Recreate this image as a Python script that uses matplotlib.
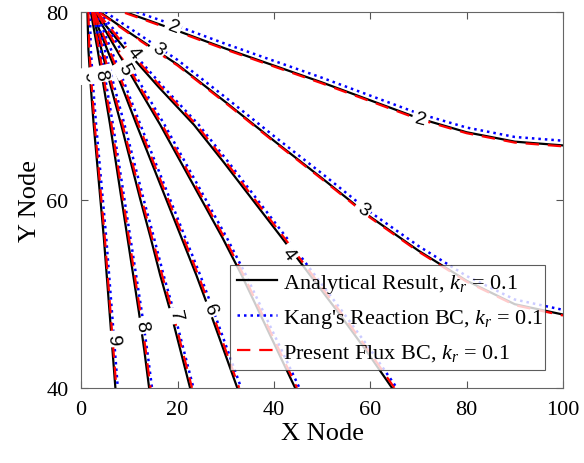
import matplotlib
matplotlib.use('Agg')
import matplotlib.pyplot as plt

plt.rcParams['font.family'] = ['Liberation Serif', 'DejaVu Serif']
plt.rcParams['mathtext.fontset'] = 'custom'
plt.rcParams['mathtext.rm'] = 'Liberation Serif'
plt.rcParams['mathtext.it'] = 'Liberation Serif:italic'

# contour levels whose lines run down to the bottom edge: x read at each y
y_steep = [80, 76, 72, 68, 64, 60, 56, 52, 48, 44, 40]
steep_levels = [9, 8, 7, 6, 5, 4]

analytical_steep = [
    [1.3, 1.5, 2.0, 2.6, 3.3, 4.0, 4.7, 5.3, 5.9, 6.5, 7.1],
    [2.0, 3.4, 4.7, 6.0, 7.2, 8.4, 9.6, 10.8, 12.0, 13.1, 14.1],
    [2.3, 4.2, 6.2, 8.3, 10.3, 12.3, 14.4, 16.4, 18.6, 20.6, 22.6],
    [2.3, 5.4, 8.5, 11.5, 14.6, 17.7, 20.8, 23.9, 26.8, 29.6, 32.4],
    [2.8, 7.3, 11.8, 16.4, 20.7, 25.0, 29.3, 33.3, 37.0, 40.7, 44.4],
    [2.8, 9.2, 16.1, 23.4, 29.6, 35.6, 41.6, 47.5, 53.4, 59.1, 64.5],
]
kang_steep = [
    [1.8, 2.0, 2.5, 3.1, 3.8, 4.5, 5.2, 5.8, 6.4, 7.0, 7.6],
    [2.6, 4.0, 5.3, 6.6, 7.8, 9.0, 10.2, 11.4, 12.6, 13.7, 14.7],
    [3.0, 4.9, 6.9, 9.0, 11.0, 13.0, 15.1, 17.1, 19.3, 21.3, 23.3],
    [3.1, 6.2, 9.3, 12.3, 15.4, 18.5, 21.6, 24.7, 27.6, 30.4, 33.2],
    [3.7, 8.2, 12.7, 17.3, 21.6, 25.9, 30.2, 34.2, 37.9, 41.6, 45.3],
    [3.8, 10.2, 17.1, 24.4, 30.6, 36.6, 42.6, 48.5, 54.4, 60.1, 65.5],
]
present_steep = [
    [1.5, 1.7, 2.2, 2.8, 3.5, 4.2, 4.9, 5.5, 6.1, 6.7, 7.3],
    [2.3, 3.7, 5.0, 6.3, 7.5, 8.7, 9.9, 11.1, 12.3, 13.4, 14.4],
    [2.6, 4.5, 6.5, 8.6, 10.6, 12.6, 14.7, 16.8, 19.0, 21.0, 23.0],
    [2.7, 5.8, 8.9, 11.9, 15.0, 18.1, 21.2, 24.3, 27.2, 30.0, 32.8],
    [3.2, 7.7, 12.2, 16.8, 21.1, 25.4, 29.7, 33.7, 37.4, 41.1, 44.8],
    [3.3, 9.7, 16.6, 23.9, 30.1, 36.1, 42.1, 48.0, 53.9, 59.6, 65.0],
]

# levels 3 and 2 run to the right edge: y read at each x
x_l3 = [3.9, 10, 20, 30, 40, 50, 60, 70, 80, 90, 100]
x_l3_kang = [5.0, 10, 20, 30, 40, 50, 60, 70, 80, 90, 100]
analytical_l3 = [80, 77.8, 74.4, 70.4, 66.3, 62.3, 58.2, 54.6, 51.4, 48.9, 47.8]
kang_l3 = [80, 78.3, 74.9, 70.9, 66.8, 62.8, 58.7, 55.1, 51.9, 49.4, 48.3]
present_l3 = [79.9, 77.7, 74.3, 70.3, 66.2, 62.2, 58.1, 54.5, 51.3, 48.8, 47.7]

x_l2 = [9.1, 20, 30, 40, 50, 60, 70, 80, 90, 100]
x_l2_kang = [11.5, 20, 30, 40, 50, 60, 70, 80, 90, 100]
analytical_l2 = [80, 78.0, 76.1, 74.3, 72.5, 70.6, 68.7, 67.2, 66.2, 65.8]
kang_l2 = [80, 78.5, 76.6, 74.8, 73.0, 71.1, 69.2, 67.7, 66.7, 66.3]
present_l2 = [79.9, 77.9, 76.0, 74.2, 72.4, 70.5, 68.6, 67.1, 66.1, 65.7]

# contour labels: text, x, y, rotation
label_text = ['2', '2', '3', '3', '4', '4', '5', '9', '8', '9', '8', '7', '6']
label_x = [19.1, 70.4, 16.0, 58.5, 43.0, 10.8, 9.1, 1.6, 4.0, 6.6, 12.6, 19.5, 26.8]
label_y = [78.4, 68.6, 76.1, 59.0, 54.3, 75.7, 74.0, 73.2, 73.4, 45.2, 46.6, 47.7, 48.4]
label_rot = [-20, -15, -38, -35, -53, -52, -62, -84, -78, -86, -80, -77, -68]

names = [r'Analytical Result, $k_r$ = 0.1',
         r"Kang's Reaction BC, $k_r$ = 0.1",
         r'Present Flux BC, $k_r$ = 0.1']

fig = plt.figure(figsize=(5.84, 4.64), dpi=100)
ax = fig.add_axes([0.139, 0.162, 0.825, 0.810])

black = dict(color='black', lw=1.6, zorder=2)
blue = dict(color='#0000ff', lw=1.8, ls=(0, (1, 1.6)), zorder=3)
red = dict(color='#ff0000', lw=1.6, ls=(0, (6, 4)), zorder=4)

for i in range(len(steep_levels)):
    ax.plot(analytical_steep[i], y_steep, **black, label=names[0] if i == 0 else None)
    ax.plot(kang_steep[i], y_steep, **blue, label=names[1] if i == 0 else None)
    ax.plot(present_steep[i], y_steep, **red, label=names[2] if i == 0 else None)

ax.plot(x_l3, analytical_l3, **black)
ax.plot(x_l3_kang, kang_l3, **blue)
ax.plot(x_l3, present_l3, **red)
ax.plot(x_l2, analytical_l2, **black)
ax.plot(x_l2_kang, kang_l2, **blue)
ax.plot(x_l2, present_l2, **red)

for t, lx, ly, r in zip(label_text, label_x, label_y, label_rot):
    ax.text(lx, ly, t, rotation=r, rotation_mode='anchor', ha='center', va='center',
            fontsize=14, family='Liberation Sans', color='black', zorder=5,
            bbox=dict(boxstyle='square,pad=0.15', fc='white', ec='none'))

ax.set_xlim(0, 100)
ax.set_ylim(40, 80)
ax.set_xticks([0, 20, 40, 60, 80, 100])
ax.set_yticks([40, 60, 80])
ax.tick_params(direction='in', length=5, width=0.8, top=True, right=True,
               labelsize=16, pad=9, colors='#555555', labelcolor='black')
for s in ax.spines.values():
    s.set_color('#666666')
    s.set_linewidth(0.8)

ax.set_xlabel('X Node', fontsize=19, labelpad=2)
ax.set_ylabel('Y Node', fontsize=19, labelpad=4)

leg = ax.legend(loc='lower left', bbox_to_anchor=(0.309, 0.048, 0.654, 0.30),
                mode='expand', fontsize=16, frameon=True, fancybox=False,
                handlelength=1.8, handletextpad=0.3, labelspacing=0.55,
                borderpad=0.3, borderaxespad=0)
leg.get_frame().set_edgecolor('#333333')
leg.get_frame().set_linewidth(0.8)
leg.set_zorder(10)

fig.savefig('out.png', dpi=100)
